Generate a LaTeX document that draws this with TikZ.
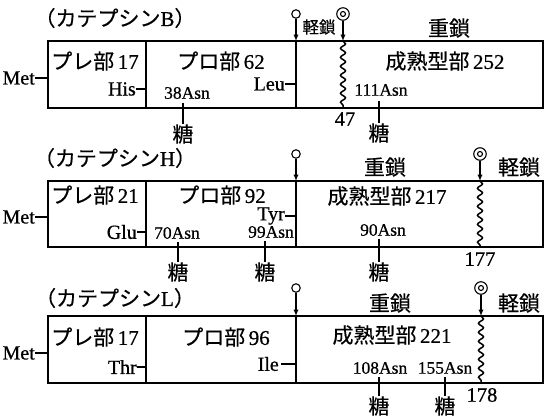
\documentclass[tikz,border=0pt]{standalone}
\usepackage{fontspec}
\setmainfont{Liberation Serif}[FakeBold=0.6]
\newfontfamily\jp{Noto Sans CJK JP}[FakeBold=0.4]
\usetikzlibrary{decorations.pathmorphing,arrows.meta}
\begin{document}
\begin{tikzpicture}[x=1pt,y=-1pt,
  box/.style={line width=1.6pt},
  tick/.style={line width=1.1pt},
  wavy/.style={line width=1.5pt, decorate, decoration={snake, segment length=9pt, amplitude=2.5pt}},
  pinline/.style={line width=1.3pt, -{Latex[length=6.5pt,width=5.5pt]}},
  ring/.style={circle, draw, line width=1.1pt, minimum size=8.5pt, inner sep=0pt},
  dring/.style={circle, draw, line width=1.1pt, minimum size=12.5pt, inner sep=0pt},
  dcore/.style={circle, draw, line width=1.1pt, minimum size=5pt, inner sep=0pt},
  jl/.style={font=\jp\fontsize{21}{23}\selectfont, inner sep=0pt},
  jsm/.style={font=\jp\fontsize{16.5}{18}\selectfont, inner sep=0pt},
  big/.style={font=\fontsize{20.5}{22}\selectfont, inner sep=0pt},
  res/.style={font=\fontsize{20}{22}\selectfont, inner sep=0pt},
  sm/.style={font=\fontsize{17.5}{19}\selectfont, inner sep=0pt},
]
\useasboundingbox (0,0) rectangle (544,418);

% ================= Cathepsin B =================
\node[jl] (B-title) at (115,18) {（カテプシン{\rmfamily B}）};
\coordinate (B-tl) at (48,41); \coordinate (B-br) at (543,108);
\draw[box] (B-tl) rectangle (B-br);
\coordinate (B-d1t) at (146,41); \coordinate (B-d1b) at (146,108);
\coordinate (B-d2t) at (296,41); \coordinate (B-d2b) at (296,108);
\coordinate (B-wt) at (343,41); \coordinate (B-wb) at (343,108);
\draw[box] (B-d1t) -- (B-d1b);
\node[ring] (B-p1) at (296,14) {};
\draw[pinline] (B-p1.south) -- (B-d2t);
\draw[box] (B-d2t) -- (B-d2b);
\node[dring] (B-p2) at (343,14) {};
\node[dcore] (B-p2c) at (B-p2) {};
\draw[pinline] (B-p2.south) -- (B-wt);
\draw[wavy] (B-wt) -- (B-wb);
\node[jsm] (B-light) at (319,27) {軽鎖};
\node[jl] (B-heavy) at (449,28) {重鎖};
\node[jl] (B-pre) at (95,61) {プレ部\,{\rmfamily 17}};
\node[jl] (B-pro) at (221,61) {プロ部\,{\rmfamily 62}};
\node[jl] (B-mat) at (445,61) {成熟型部\,{\rmfamily 252}};
\node[res, anchor=east] (B-met) at (35,78) {Met};
\draw[tick] (B-met.east) -- (B-met.east -| B-tl);
\node[res, anchor=east] (B-his) at (136,89) {His};
\draw[tick] (B-his.east) -- (B-his.east -| B-d1t);
\node[res, anchor=east] (B-leu) at (285,84) {Leu};
\draw[tick] (B-leu.east) -- (B-leu.east -| B-d2t);
\node[sm] (B-a38) at (187,93) {38Asn};
\node[jl] (B-s38) at (183,134) {糖};
\draw[tick] (183,103) -- (B-s38.north);
\node[sm] (B-a111) at (381,90) {111Asn};
\node[jl] (B-s111) at (379,133) {糖};
\draw[tick] (379,101) -- (B-s111.north);
\node[big] (B-47) at (345,119) {47};

% ================= Cathepsin H =================
\node[jl] (H-title) at (115,158) {（カテプシン{\rmfamily H}）};
\coordinate (H-tl) at (48,181); \coordinate (H-br) at (543,247);
\draw[box] (H-tl) rectangle (H-br);
\coordinate (H-d1t) at (146,181); \coordinate (H-d1b) at (146,247);
\coordinate (H-d2t) at (296,181); \coordinate (H-d2b) at (296,247);
\coordinate (H-wt) at (480,181); \coordinate (H-wb) at (480,247);
\draw[box] (H-d1t) -- (H-d1b);
\node[ring] (H-p1) at (296,154) {};
\draw[pinline] (H-p1.south) -- (H-d2t);
\draw[box] (H-d2t) -- (H-d2b);
\node[dring] (H-p2) at (480,154) {};
\node[dcore] (H-p2c) at (H-p2) {};
\draw[pinline] (H-p2.south) -- (H-wt);
\draw[wavy] (H-wt) -- (H-wb);
\node[jl] (H-heavy) at (385,167) {重鎖};
\node[jl] (H-light) at (519,167) {軽鎖};
\node[jl] (H-pre) at (95,195) {プレ部\,{\rmfamily 21}};
\node[jl] (H-pro) at (222,195) {プロ部\,{\rmfamily 92}};
\node[jl] (H-mat) at (387,196) {成熟型部\,{\rmfamily 217}};
\node[res, anchor=east] (H-met) at (35,217) {Met};
\draw[tick] (H-met.east) -- (H-met.east -| H-tl);
\node[res, anchor=east] (H-glu) at (137,232) {Glu};
\draw[tick] (H-glu.east) -- (H-glu.east -| H-d1t);
\node[res, anchor=east] (H-tyr) at (285,216) {Tyr};
\draw[tick] (H-tyr.east) -- (H-tyr.east -| H-d2t);
\node[sm] (H-a70) at (177,233) {70Asn};
\node[jl] (H-s70) at (178,272) {糖};
\draw[tick] (178,242) -- (H-s70.north);
\node[sm] (H-a99) at (271,232) {99Asn};
\node[jl] (H-s99) at (265,272) {糖};
\draw[tick] (265,241) -- (H-s99.north);
\node[sm] (H-a90) at (383,230) {90Asn};
\node[jl] (H-s90) at (379,272) {糖};
\draw[tick] (379,239) -- (H-s90.north);
\node[big] (H-177) at (480,259) {177};

% ================= Cathepsin L =================
\node[jl] (L-title) at (115,298) {（カテプシン{\rmfamily L}）};
\coordinate (L-tl) at (48,316); \coordinate (L-br) at (543,383);
\draw[box] (L-tl) rectangle (L-br);
\coordinate (L-d1t) at (146,316); \coordinate (L-d1b) at (146,383);
\coordinate (L-d2t) at (296,316); \coordinate (L-d2b) at (296,383);
\coordinate (L-wt) at (481,316); \coordinate (L-wb) at (481,383);
\draw[box] (L-d1t) -- (L-d1b);
\node[ring] (L-p1) at (296,288) {};
\draw[pinline] (L-p1.south) -- (L-d2t);
\draw[box] (L-d2t) -- (L-d2b);
\node[dring] (L-p2) at (481,288) {};
\node[dcore] (L-p2c) at (L-p2) {};
\draw[pinline] (L-p2.south) -- (L-wt);
\draw[wavy] (L-wt) -- (L-wb);
\node[jl] (L-heavy) at (390,303) {重鎖};
\node[jl] (L-light) at (519,303) {軽鎖};
\node[jl] (L-pre) at (95,337) {プレ部\,{\rmfamily 17}};
\node[jl] (L-pro) at (226,337) {プロ部\,{\rmfamily 96}};
\node[jl] (L-mat) at (392,335) {成熟型部\,{\rmfamily 221}};
\node[res, anchor=east] (L-met) at (35,353) {Met};
\draw[tick] (L-met.east) -- (L-met.east -| L-tl);
\node[res, anchor=east] (L-thr) at (137,367) {Thr};
\draw[tick] (L-thr.east) -- (L-thr.east -| L-d1t);
\node[res, anchor=east] (L-ile) at (279,364) {Ile};
\draw[tick] ([xshift=2pt]L-ile.east) -- (L-ile.east -| L-d2t);
\node[sm] (L-a108) at (380,368) {108Asn};
\node[jl] (L-s108) at (379,406) {糖};
\draw[tick] (379,377) -- (L-s108.north);
\node[sm] (L-a155) at (445,368) {155Asn};
\node[jl] (L-s155) at (445,406) {糖};
\draw[tick] (445,377) -- (L-s155.north);
\node[big] (L-178) at (482,395) {178};
\end{tikzpicture}
\end{document}
